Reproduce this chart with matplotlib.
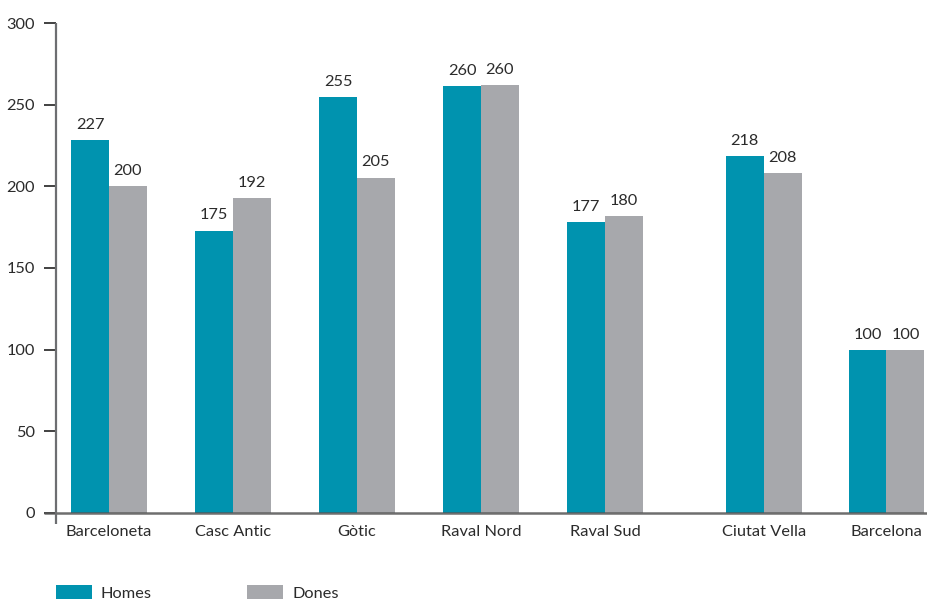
import matplotlib
matplotlib.use("Agg")
import matplotlib.pyplot as plt
from matplotlib.patches import Patch

plt.rcParams['font.family'] = ['Lato', 'DejaVu Sans']

categories = ["Barceloneta", "Casc Antic", "Gòtic", "Raval Nord", "Raval Sud", "Ciutat Vella", "Barcelona"]
homes = [228.5, 172.8, 254.8, 261.5, 178.0, 218.6, 99.8]
dones = [200.2, 193.0, 205.3, 262.0, 181.8, 208.2, 99.8]
homes_labels = ["227", "175", "255", "260", "177", "218", "100"]
dones_labels = ["200", "192", "205", "260", "180", "208", "100"]
yticks = [0, 50, 100, 150, 200, 250, 300]

positions = [0, 1, 2, 3, 4, 5.28, 6.27]
TEAL = "#0093AF"
GREY = "#A7A8AC"
TXT = "#2b2b2b"
AX = "#6d6e71"
FS = 11.8

fig = plt.figure(figsize=(9.27, 6.02), dpi=100)
ax = fig.add_axes([56/927, 1-512.7/602, 1-56/927, (512.7-23.3)/602])

w = 0.306
hx = [p - w/2 for p in positions]
dx = [p + w/2 for p in positions]
ax.bar(hx, homes, width=w, color=TEAL, zorder=2)
ax.bar(dx, dones, width=w, color=GREY, zorder=2)

for x, v, l in zip(hx, homes, homes_labels):
    ax.annotate(l, (x, v), xytext=(0, 6), textcoords="offset points",
                ha="center", va="bottom", fontsize=FS, color=TXT)
for x, v, l in zip(dx, dones, dones_labels):
    ax.annotate(l, (x, v), xytext=(0, 6), textcoords="offset points",
                ha="center", va="bottom", fontsize=FS, color=TXT)

ax.set_xlim(-0.427, 6.597)
ax.set_ylim(0, 300)
for s in ax.spines.values():
    s.set_visible(False)

# axis lines
ax.plot([-12 / (927-56), 1], [0, 0], transform=ax.transAxes, color="#555555",
        lw=1.8, alpha=0.85, clip_on=False, zorder=3, solid_capstyle="butt")
ax.plot([0, 0], [-11/489.4, 1], transform=ax.transAxes, color=AX,
        lw=1.6, clip_on=False, zorder=3, solid_capstyle="butt")

ax.set_yticks(yticks)
ax.set_yticklabels([str(t) for t in yticks], fontsize=FS, color=TXT)
ax.tick_params(axis="y", length=9, width=1.3, color="#333333", pad=6)
ax.set_xticks(positions)
ax.set_xticklabels(categories, fontsize=FS, color=TXT)
ax.tick_params(axis="x", length=0, pad=9)

handles = [Patch(facecolor=TEAL, label="Homes"), Patch(facecolor=GREY, label="Dones")]
fig.legend(handles=handles, loc="lower left", bbox_to_anchor=(51/927, -0.006),
           ncol=2, frameon=False, fontsize=FS, handlelength=2.2, handleheight=0.85,
           handletextpad=0.55, columnspacing=5.8, labelcolor=TXT, borderpad=0.0,
           borderaxespad=0.3)

fig.savefig("out.png", dpi=100)
